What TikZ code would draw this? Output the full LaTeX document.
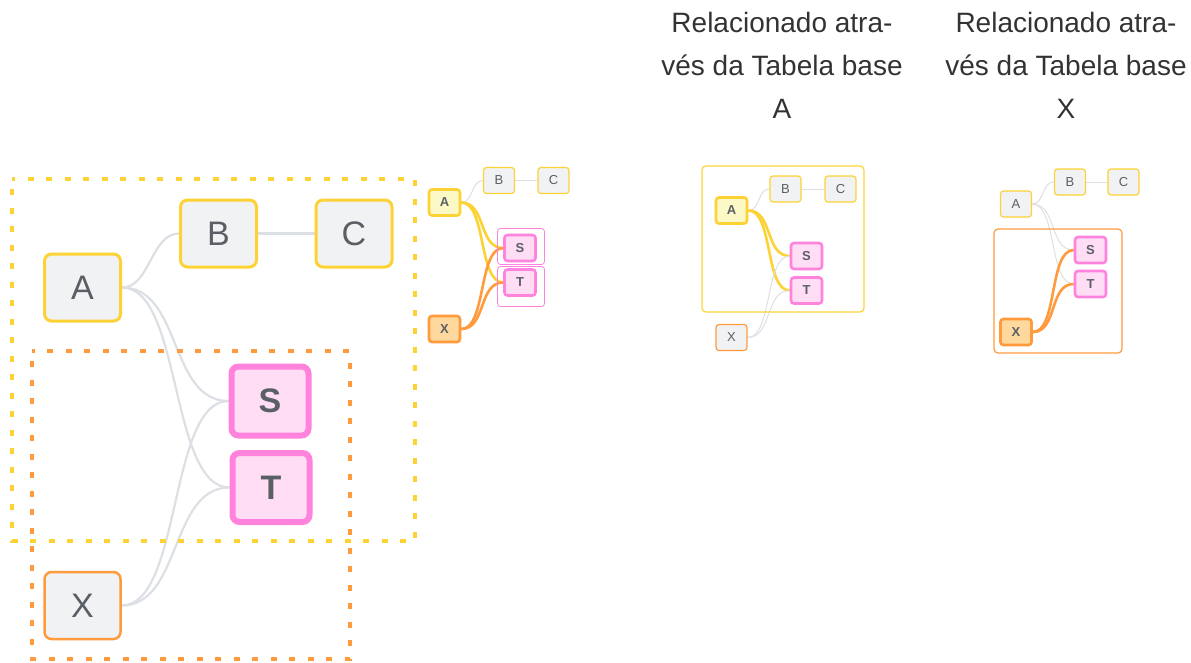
\documentclass[tikz,border=0pt]{standalone}
\usepackage{fontspec}
\setmainfont{Liberation Sans}
\usetikzlibrary{backgrounds}
\definecolor{yel}{HTML}{FDD235}
\definecolor{yfill}{HTML}{FDF9C6}
\definecolor{org}{HTML}{FF9A3D}
\definecolor{ofill}{HTML}{FFD89E}
\definecolor{pnk}{HTML}{FF82DC}
\definecolor{pfill}{HTML}{FFDDF5}
\definecolor{gfill}{HTML}{F1F2F4}
\definecolor{gline}{HTML}{DCDFE4}
\definecolor{txt}{HTML}{5A5F66}
\definecolor{ttl}{HTML}{333333}
\tikzset{
  tbl/.style={rectangle, rounded corners=7pt, fill=gfill, text=txt, inner sep=0pt,
    minimum width=76pt, minimum height=67pt, font=\fontsize{34}{34}\selectfont},
  ybig/.style={tbl, draw=yel, line width=3pt},
  obig/.style={tbl, draw=org, line width=2.5pt},
  pbig/.style={tbl, draw=pnk, fill=pfill, line width=6pt, minimum width=77pt, minimum height=69pt,
    font=\fontsize{34}{34}\bfseries\selectfont},
  sm/.style={rectangle, rounded corners=3pt, fill=gfill, text=txt, inner sep=0pt,
    minimum width=31pt, minimum height=26pt, font=\fontsize{13}{13}\selectfont},
  ythin/.style={sm, draw=yel, line width=1.2pt},
  othin/.style={sm, draw=org, line width=1.2pt},
  ythick/.style={sm, draw=yel, fill=yfill, line width=2.6pt, font=\fontsize{13}{13}\bfseries\selectfont},
  othick/.style={sm, draw=org, fill=ofill, line width=2.6pt, font=\fontsize{13}{13}\bfseries\selectfont},
  pthick/.style={sm, draw=pnk, fill=pfill, line width=2.6pt, font=\fontsize{13}{13}\bfseries\selectfont},
  gbig/.style={draw=gline, line width=2.2pt},
  gsm/.style={draw=gline, line width=1pt},
  ysm/.style={draw=yel, line width=2.6pt},
  osm/.style={draw=org, line width=2.6pt},
  ydash/.style={draw=yel, line width=3.5pt, dash pattern=on 6pt off 12.5pt, dash phase=-10pt},
  odash/.style={draw=org, line width=3.5pt, dash pattern=on 6pt off 12.5pt, dash phase=-10pt},
  ttlstyle/.style={align=center, text=ttl, font=\fontsize{28}{43}\selectfont, inner sep=0pt}
}
\begin{document}
\begin{tikzpicture}[x=1pt,y=-1pt]
\useasboundingbox (0,0) rectangle (1191,662);
% ---------- big diagram ----------
\draw[ydash] (12,179) rectangle (415,541);
\draw[odash] (32,351) rectangle (350,659);
\node[ybig] (A) at (82.5,287.5) {A};
\node[ybig] (B) at (218.5,233.5) {B};
\node[ybig] (C) at (354,233.5) {C};
\node[pbig] (S) at (270,401) {S};
\node[pbig] (T) at (271,487.5) {T};
\node[obig] (X) at (82.5,605.5) {X};
\begin{scope}[on background layer]
\draw[gbig] (A.east) .. controls +(28,0) and +(-28,0) .. (B.west);
\draw[gbig] (B.east) -- (C.west);
\draw[gbig] (A.east) .. controls +(60,0) and +(-60,0) .. (S.west);
\draw[gbig] (A.east) .. controls +(60,0) and +(-60,0) .. (T.west);
\draw[gbig] (X.east) .. controls +(60,0) and +(-60,0) .. (S.west);
\draw[gbig] (X.east) .. controls +(60,0) and +(-60,0) .. (T.west);
\end{scope}
% ---------- diagram 1 ----------
\node[draw=pnk, line width=0.8pt, rounded corners=3pt, minimum width=47pt, minimum height=36pt, inner sep=0pt] (sbox) at (521,246.5) {};
\node[draw=pnk, line width=0.8pt, rounded corners=3pt, minimum width=47pt, minimum height=40pt, inner sep=0pt] (tbox) at (521,286.5) {};
\node[ythick] (A1) at (444.5,202.5) {A};
\node[ythin] (B1) at (499,180.5) {B};
\node[ythin] (C1) at (553.5,180.5) {C};
\node[pthick] (S1) at (520,248) {S};
\node[pthick] (T1) at (520,282.5) {T};
\node[othick] (X1) at (444.5,329) {X};
\begin{scope}[on background layer]
\draw[gsm] (A1.east) .. controls +(12,0) and +(-12,0) .. (B1.west);
\draw[gsm] (B1.east) -- (C1.west);
\draw[ysm] (A1.east) .. controls +(25,0) and +(-25,0) .. (S1.west);
\draw[ysm] (A1.east) .. controls +(25,0) and +(-25,0) .. (T1.west);
\draw[osm] (X1.east) .. controls +(25,0) and +(-25,0) .. (S1.west);
\draw[osm] (X1.east) .. controls +(25,0) and +(-25,0) .. (T1.west);
\end{scope}
% ---------- diagram 2 ----------
\node[ttlstyle] (title1) at (782,65) {Relacionado atra-\\vés da Tabela base\\A};
\draw[draw=yel, line width=1.2pt, rounded corners=4pt] (702,166) rectangle (864,312);
\node[ythick] (A2) at (731.5,210.5) {A};
\node[ythin] (B2) at (785.5,189) {B};
\node[ythin] (C2) at (840.5,189) {C};
\node[pthick] (S2) at (806.5,256) {S};
\node[pthick] (T2) at (806.5,290.5) {T};
\node[othin] (X2) at (731.5,337.5) {X};
\begin{scope}[on background layer]
\draw[gsm] (A2.east) .. controls +(12,0) and +(-12,0) .. (B2.west);
\draw[gsm] (B2.east) -- (C2.west);
\draw[ysm] (A2.east) .. controls +(25,0) and +(-25,0) .. (S2.west);
\draw[ysm] (A2.east) .. controls +(25,0) and +(-25,0) .. (T2.west);
\draw[gsm] (X2.east) .. controls +(25,0) and +(-25,0) .. (S2.west);
\draw[gsm] (X2.east) .. controls +(25,0) and +(-25,0) .. (T2.west);
\end{scope}
% ---------- diagram 3 ----------
\node[ttlstyle] (title2) at (1066,65) {Relacionado atra-\\vés da Tabela base\\X};
\draw[draw=org, line width=1.2pt, rounded corners=4pt] (994,229) rectangle (1122,353);
\node[ythin] (A3) at (1016,204) {A};
\node[ythin] (B3) at (1070,182) {B};
\node[ythin] (C3) at (1123.5,182) {C};
\node[pthick] (S3) at (1090.5,250) {S};
\node[pthick] (T3) at (1090.5,284) {T};
\node[othick] (X3) at (1016,332) {X};
\begin{scope}[on background layer]
\draw[gsm] (A3.east) .. controls +(12,0) and +(-12,0) .. (B3.west);
\draw[gsm] (B3.east) -- (C3.west);
\draw[gsm] (A3.east) .. controls +(25,0) and +(-25,0) .. (S3.west);
\draw[gsm] (A3.east) .. controls +(25,0) and +(-25,0) .. (T3.west);
\draw[osm] (X3.east) .. controls +(25,0) and +(-25,0) .. (S3.west);
\draw[osm] (X3.east) .. controls +(25,0) and +(-25,0) .. (T3.west);
\end{scope}
\end{tikzpicture}
\end{document}
